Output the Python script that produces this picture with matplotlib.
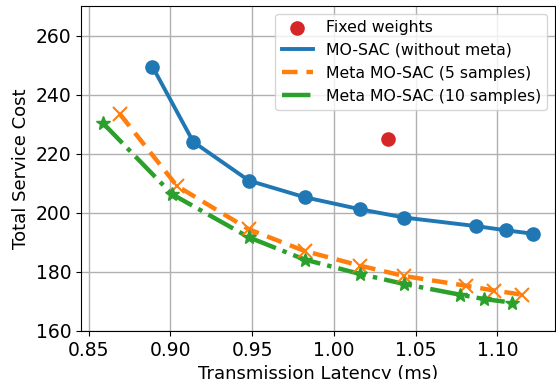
import matplotlib
matplotlib.use("Agg")
import matplotlib.pyplot as plt

fixed_x = [1.033]
fixed_y = [225.0]

base_x = [0.889, 0.914, 0.948, 0.982, 1.016, 1.043, 1.087, 1.105, 1.122]
base_y = [249.5, 224.0, 210.9, 205.3, 201.2, 198.4, 195.5, 194.1, 192.9]

meta5_x = [0.869, 0.904, 0.948, 0.982, 1.016, 1.043, 1.081, 1.098, 1.115]
meta5_y = [233.5, 209.1, 194.4, 187.1, 182.1, 178.6, 175.3, 173.7, 172.3]

meta10_x = [0.8585, 0.901, 0.948, 0.982, 1.016, 1.043, 1.077, 1.092, 1.109]
meta10_y = [230.5, 206.3, 191.7, 184.2, 179.3, 175.9, 172.3, 170.8, 169.6]

fig = plt.figure(figsize=(5.56, 3.79), dpi=100)
ax = fig.add_axes([81/556, 48/379, 474/556, 325/379])

ax.scatter(fixed_x, fixed_y, color='tab:red', s=90, label='Fixed weights', zorder=3)

# lines carry the legend entries, markers drawn on top without labels
ax.plot(base_x, base_y, '-', color='tab:blue', lw=2.8, label='MO-SAC (without meta)')
ax.plot(meta5_x, meta5_y, '--', color='tab:orange', lw=3.2, dashes=(3.5, 2),
        label='Meta MO-SAC (5 samples)')
ax.plot(meta10_x, meta10_y, '-.', color='tab:green', lw=3.2, label='Meta MO-SAC (10 samples)')

ax.plot(base_x, base_y, 'o', color='tab:blue', ms=9.5)
ax.plot(meta5_x, meta5_y, 'x', color='tab:orange', ms=10, mew=1.5)
ax.plot(meta10_x, meta10_y, '*', color='tab:green', ms=10)

ax.set_ylim(160, 270)
ax.set_xticks([0.85, 0.90, 0.95, 1.00, 1.05, 1.10])
ax.tick_params(labelsize=13.5)
ax.set_xlabel('Transmission Latency (ms)', fontsize=13)
ax.set_ylabel('Total Service Cost', fontsize=13)
ax.grid(True, lw=1)
ax.legend(loc='upper right', fontsize=11.3)

fig.savefig('out.png', dpi=100)
